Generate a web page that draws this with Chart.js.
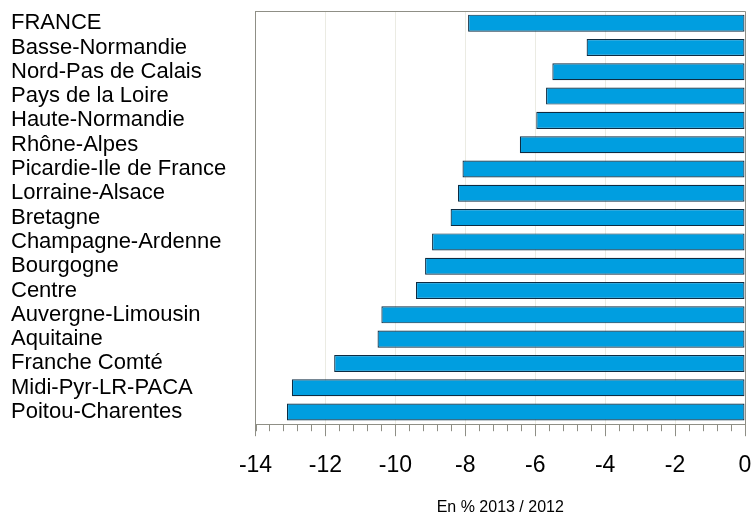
<!DOCTYPE html>
<html>
<head>
<meta charset="utf-8">
<script src="https://cdn.jsdelivr.net/npm/chart.js@4/dist/chart.umd.min.js"></script>
<style>
  body { margin: 0; background: #fff; }
  #wrap { width: 752px; height: 517px; }
</style>
</head>
<body>
<div id="wrap"><canvas id="chart"></canvas></div>
<script>
const regions = [
  "FRANCE", "Basse-Normandie", "Nord-Pas de Calais", "Pays de la Loire",
  "Haute-Normandie", "Rhône-Alpes", "Picardie-Ile de France", "Lorraine-Alsace",
  "Bretagne", "Champagne-Ardenne", "Bourgogne", "Centre", "Auvergne-Limousin",
  "Aquitaine", "Franche Comté", "Midi-Pyr-LR-PACA", "Poitou-Charentes"
];
const variation = [
  -7.92, -4.53, -5.51, -5.69, -5.97, -6.44, -8.08, -8.21,
  -8.42, -8.95, -9.15, -9.41, -10.40, -10.51, -11.75, -12.96, -13.10
];
const xMin = -14;
const xMax = 0;
const xStep = 2;
const minorStep = 0.4;
const axisTitle = "En % 2013 / 2012";

const FONT = "'Liberation Sans', Arial, sans-serif";

// top/right frame + short minor ticks under the x axis
const frame = {
  id: 'frame',
  afterDraw(chart) {
    const { ctx, chartArea: a, scales } = chart;
    ctx.save();
    ctx.strokeStyle = '#8f8f86';
    ctx.lineWidth = 1;
    ctx.beginPath();
    ctx.moveTo(a.left, a.top + 0.5);
    ctx.lineTo(a.right + 0.5, a.top + 0.5);
    ctx.lineTo(a.right + 0.5, a.bottom);
    ctx.stroke();
    ctx.beginPath();
    const n = Math.round((xMax - xMin) / minorStep);
    for (let i = 0; i <= n; i++) {
      const px = Math.round(scales.x.getPixelForValue(xMin + i * minorStep)) + 0.5;
      ctx.moveTo(px, a.bottom);
      ctx.lineTo(px, a.bottom + 7);
    }
    ctx.stroke();
    ctx.restore();
  }
};

new Chart(document.getElementById('chart'), {
  type: 'bar',
  data: {
    labels: regions,
    datasets: [{
      data: variation,
      backgroundColor: '#009ee0',
      borderColor: '#0e2c42',
      borderWidth: 1.2,
      borderSkipped: false,
      barPercentage: 0.7,
      categoryPercentage: 1
    }]
  },
  options: {
    indexAxis: 'y',
    responsive: true,
    maintainAspectRatio: false,
    animation: false,
    layout: { padding: { left: 11, top: 11, right: 7, bottom: 0 } },
    plugins: {
      legend: { display: false },
      tooltip: { enabled: false }
    },
    scales: {
      x: {
        min: xMin,
        max: xMax,
        afterFit(scale) { scale.paddingLeft = 0; scale.paddingRight = 0; },
        ticks: {
          stepSize: xStep,
          color: '#000',
          font: { family: FONT, size: 23 },
          padding: 15.5
        },
        grid: {
          color: '#ebebe3',
          tickColor: '#8f8f86',
          tickLength: 12
        },
        border: { color: '#8f8f86' },
        title: {
          display: true,
          text: axisTitle,
          color: '#000',
          font: { family: FONT, size: 16 },
          padding: { top: 3, bottom: 0 }
        }
      },
      y: {
        afterFit(scale) { scale.width = 244.5; scale.paddingTop = 0; scale.paddingBottom = 0; },
        ticks: {
          crossAlign: 'far',
          color: '#000',
          font: { family: FONT, size: 22 },
          autoSkip: false
        },
        grid: { display: false },
        border: { color: '#8f8f86' }
      }
    }
  },
  plugins: [frame]
});
</script>
</body>
</html>
